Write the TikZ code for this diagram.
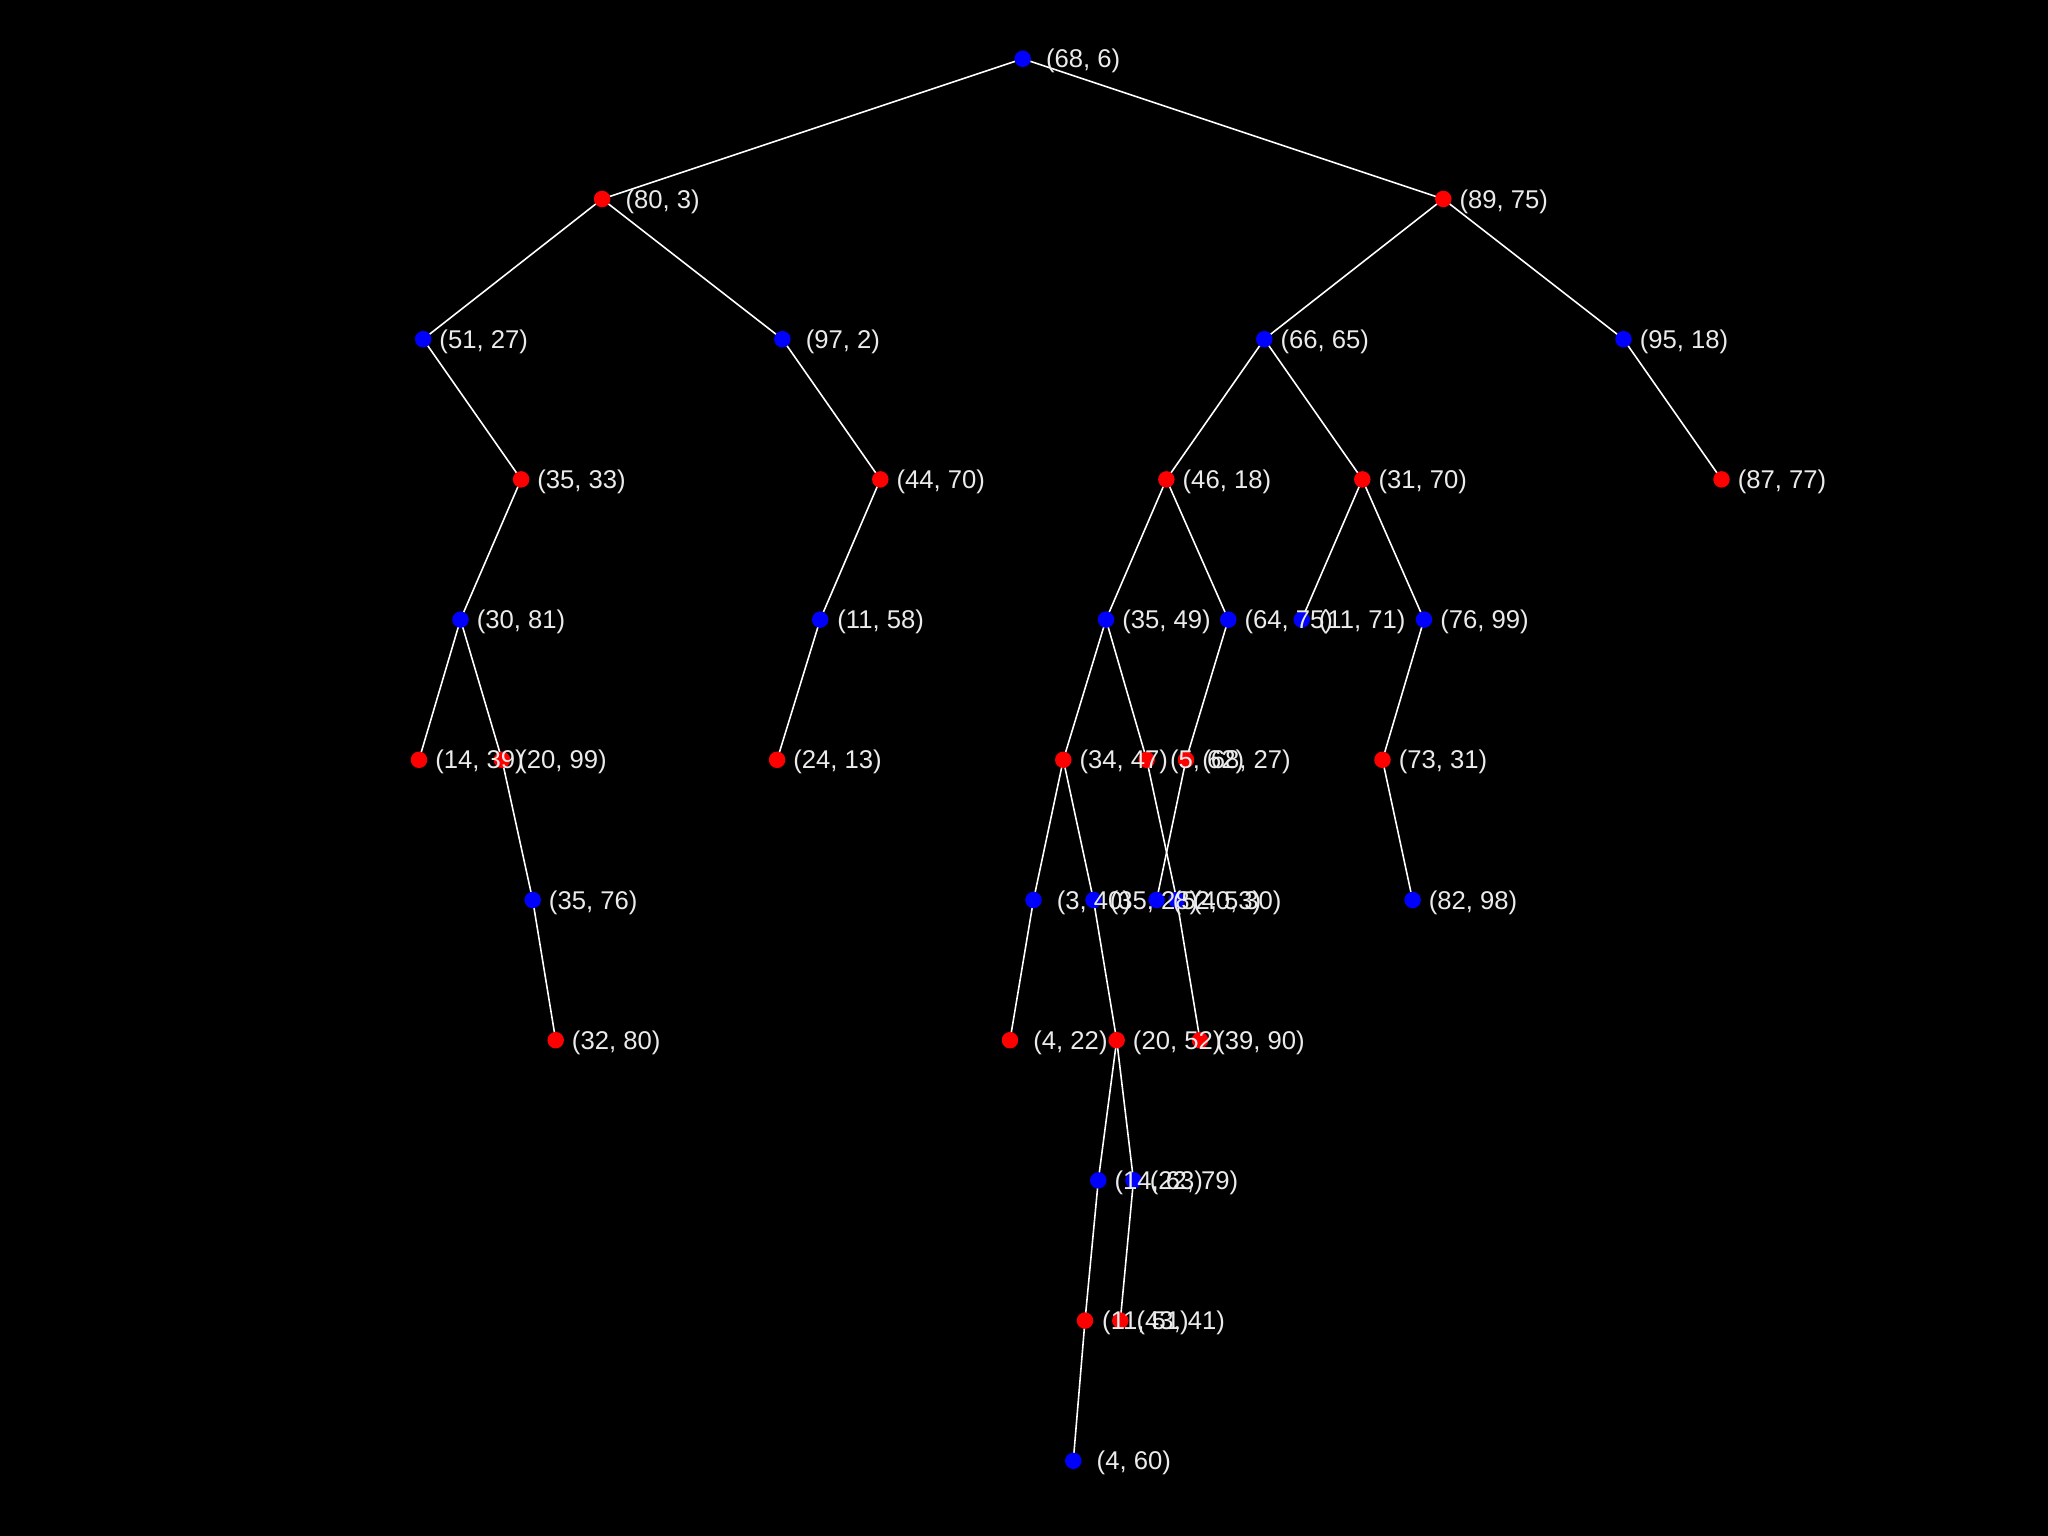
\documentclass[tikz,border=0pt]{standalone}
\usepackage{fontspec}
\setmainfont{Liberation Sans}
\definecolor{kdblue}{RGB}{0,0,255}
\definecolor{kdred}{RGB}{255,0,0}
\definecolor{kdtext}{RGB}{235,235,235}
\pgfdeclarelayer{back}
\pgfdeclarelayer{edges}
\pgfdeclarelayer{labels}
\pgfsetlayers{back,edges,main,labels}
\tikzset{
  dot/.style={circle, inner sep=0pt, minimum size=0.165cm, draw=none},
  bdot/.style={dot, fill=kdblue},
  rdot/.style={dot, fill=kdred},
  lab/.style={text=kdtext, inner sep=0pt, anchor=center,
    font=\fontsize{7.3}{8.7}\selectfont},
  edge/.style={draw=white, line width=0.45pt},
}
\newcommand\kdpt[5]{%
  \node[#4] (#1) at ({#2/100},{-0.588-1.402*#3}) {};
  \begin{pgfonlayer}{labels}
    \node[lab] (#1t) at ([xshift=0.605cm,yshift=-0.025cm]#1.center) {#5};
  \end{pgfonlayer}
}
\begin{document}
\begin{tikzpicture}
\begin{pgfonlayer}{back}
  \fill[black] (0,0) rectangle (20.48,-15.36);
\end{pgfonlayer}
\useasboundingbox (0,0) rectangle (20.48,-15.36);
% depth 0
\kdpt{a}{1022.7}{0}{bdot}{(68, 6)}
% depth 1
\kdpt{b}{602.1}{1}{rdot}{(80, 3)}
\kdpt{c}{1443.3}{1}{rdot}{(89, 75)}
% depth 2
\kdpt{d}{423.2}{2}{bdot}{(51, 27)}
\kdpt{e}{782.4}{2}{bdot}{(97, 2)}
\kdpt{f}{1264.3}{2}{bdot}{(66, 65)}
\kdpt{g}{1623.5}{2}{bdot}{(95, 18)}
% depth 3
\kdpt{h}{521.1}{3}{rdot}{(35, 33)}
\kdpt{i}{880.3}{3}{rdot}{(44, 70)}
\kdpt{j}{1166.4}{3}{rdot}{(46, 18)}
\kdpt{k}{1362.3}{3}{rdot}{(31, 70)}
\kdpt{l}{1721.5}{3}{rdot}{(87, 77)}
% depth 4
\kdpt{m}{460.5}{4}{bdot}{(30, 81)}
\kdpt{n}{820.2}{4}{bdot}{(11, 58)}
\kdpt{o}{1106.0}{4}{bdot}{(35, 49)}
\kdpt{p}{1228.3}{4}{bdot}{(64, 75)}
\kdpt{q}{1301.7}{4}{bdot}{(11, 71)}
\kdpt{r}{1424.0}{4}{bdot}{(76, 99)}
% depth 5
\kdpt{s}{419.0}{5}{rdot}{(14, 39)}
\kdpt{t}{502.0}{5}{rdot}{(20, 99)}
\kdpt{u}{777.1}{5}{rdot}{(24, 13)}
\kdpt{v}{1063.3}{5}{rdot}{(34, 47)}
\kdpt{w}{1146.7}{5}{rdot}{(5, 62)}
\kdpt{x}{1186.0}{5}{rdot}{(68, 27)}
\kdpt{y}{1382.5}{5}{rdot}{(73, 31)}
% depth 6
\kdpt{z}{532.7}{6}{bdot}{(35, 76)}
\kdpt{A}{1033.5}{6}{bdot}{(3, 40)}
\kdpt{B}{1093.5}{6}{bdot}{(35, 28)}
\kdpt{C}{1156.6}{6}{bdot}{(52, 53)}
\kdpt{D}{1176.8}{6}{bdot}{(40, 30)}
\kdpt{E}{1412.6}{6}{bdot}{(82, 98)}
% depth 7
\kdpt{F}{555.7}{7}{rdot}{(32, 80)}
\kdpt{G}{1010.0}{7}{rdot}{(4, 22)}
\kdpt{H}{1116.7}{7}{rdot}{(20, 52)}
\kdpt{I}{1200.0}{7}{rdot}{(39, 90)}
% depth 8
\kdpt{J}{1098.3}{8}{bdot}{(14, 63)}
\kdpt{K}{1133.5}{8}{bdot}{(22, 79)}
% depth 9
\kdpt{L}{1085.0}{9}{rdot}{(11, 51)}
\kdpt{M}{1120.3}{9}{rdot}{(43, 41)}
% depth 10
\kdpt{N}{1073.3}{10}{bdot}{(4, 60)}
\begin{pgfonlayer}{edges}
  \draw[edge] (a.center) -- (b.center);
  \draw[edge] (a.center) -- (c.center);
  \draw[edge] (b.center) -- (d.center);
  \draw[edge] (b.center) -- (e.center);
  \draw[edge] (c.center) -- (f.center);
  \draw[edge] (c.center) -- (g.center);
  \draw[edge] (d.center) -- (h.center);
  \draw[edge] (e.center) -- (i.center);
  \draw[edge] (f.center) -- (j.center);
  \draw[edge] (f.center) -- (k.center);
  \draw[edge] (g.center) -- (l.center);
  \draw[edge] (h.center) -- (m.center);
  \draw[edge] (i.center) -- (n.center);
  \draw[edge] (j.center) -- (o.center);
  \draw[edge] (j.center) -- (p.center);
  \draw[edge] (k.center) -- (q.center);
  \draw[edge] (k.center) -- (r.center);
  \draw[edge] (m.center) -- (s.center);
  \draw[edge] (m.center) -- (t.center);
  \draw[edge] (n.center) -- (u.center);
  \draw[edge] (o.center) -- (v.center);
  \draw[edge] (o.center) -- (w.center);
  \draw[edge] (p.center) -- (x.center);
  \draw[edge] (r.center) -- (y.center);
  \draw[edge] (t.center) -- (z.center);
  \draw[edge] (v.center) -- (A.center);
  \draw[edge] (v.center) -- (B.center);
  \draw[edge] (x.center) -- (C.center);
  \draw[edge] (w.center) -- (D.center);
  \draw[edge] (y.center) -- (E.center);
  \draw[edge] (z.center) -- (F.center);
  \draw[edge] (A.center) -- (G.center);
  \draw[edge] (B.center) -- (H.center);
  \draw[edge] (D.center) -- (I.center);
  \draw[edge] (H.center) -- (J.center);
  \draw[edge] (H.center) -- (K.center);
  \draw[edge] (J.center) -- (L.center);
  \draw[edge] (K.center) -- (M.center);
  \draw[edge] (L.center) -- (N.center);
\end{pgfonlayer}
\end{tikzpicture}
\end{document}
